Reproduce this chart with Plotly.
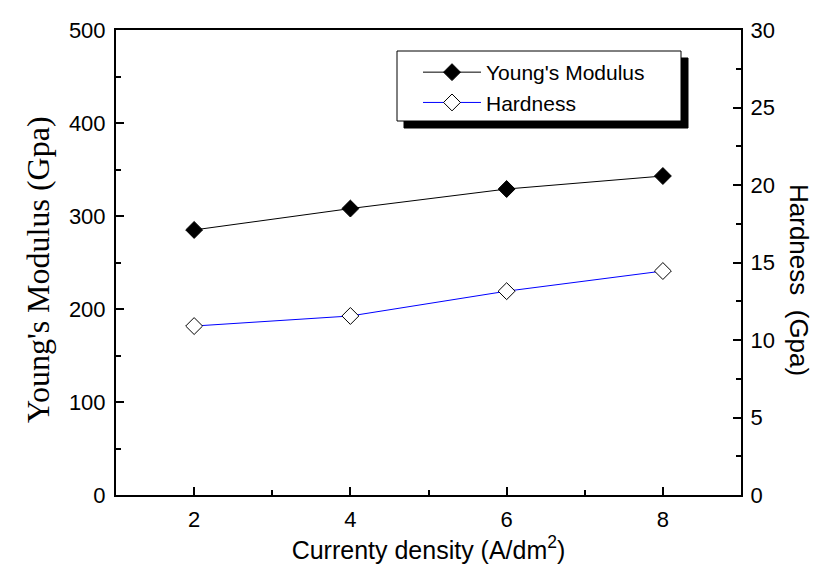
import plotly.graph_objects as go

current_density = [2, 4, 6, 8]
youngs_modulus = [285, 308, 329, 343]
hardness = [10.9, 11.55, 13.15, 14.45]

W, H = 818, 568
L, R, T, B = 108, 733, 22, 487

def px(x):
    return (x - L) / (R - L)

def py(y):
    return (B - y) / (B - T)

fig = go.Figure()
fig.add_trace(go.Scatter(
    x=current_density, y=youngs_modulus, name="Young's Modulus",
    mode="lines+markers",
    line=dict(color="black", width=1),
    marker=dict(symbol="diamond", size=13, color="black", line=dict(color="black", width=1)),
    yaxis="y"))
fig.add_trace(go.Scatter(
    x=current_density, y=hardness, name="Hardness",
    mode="lines+markers",
    line=dict(color="#0000FF", width=1),
    marker=dict(symbol="diamond", size=13, color="white", line=dict(color="black", width=1)),
    yaxis="y2"))

tickfont = dict(family="Liberation Sans, Arial", size=22, color="black")
axis_common = dict(showgrid=False, zeroline=False, showline=True, linecolor="black",
                   linewidth=2, ticks="inside", ticklen=8, tickwidth=1.5, tickcolor="black",
                   tickfont=tickfont, automargin=False)

fig.update_layout(
    width=W, height=H,
    margin=dict(l=L, r=W - R, t=T, b=H - B, pad=0, autoexpand=False),
    paper_bgcolor="white", plot_bgcolor="white",
    showlegend=True,
    xaxis=dict(range=[1, 9], tickvals=[2, 4, 6, 8], mirror=True, ticklabelstandoff=4,
               minor=dict(tickvals=[1, 3, 5, 7, 9], ticks="inside", ticklen=5, tickcolor="black", tickwidth=1.5),
               title=dict(text="Currenty density (A/dm<sup>2</sup>)",
                          font=dict(family="Liberation Sans, Arial", size=25, color="black"), standoff=8),
               **axis_common),
    yaxis=dict(range=[0, 500], tickvals=[0, 100, 200, 300, 400, 500], ticklabelstandoff=4,
               minor=dict(dtick=50, ticks="inside", ticklen=5, tickcolor="black", tickwidth=1.5),
               **axis_common),
    yaxis2=dict(range=[0, 30], tickvals=[0, 5, 10, 15, 20, 25, 30], overlaying="y", side="right",
                ticklabelstandoff=3,
                minor=dict(dtick=2.5, ticks="inside", ticklen=5, tickcolor="black", tickwidth=1.5),
                **axis_common),
    legend=dict(x=px(410), y=py(44), xanchor="left", yanchor="top",
                bgcolor="rgba(0,0,0,0)", borderwidth=0,
                font=dict(family="Liberation Sans, Arial", size=21, color="black"),
                itemwidth=58, tracegroupgap=0),
    shapes=[
        dict(type="rect", xref="paper", yref="paper", x0=px(396), x1=px(680), y0=py(120), y1=py(50),
             fillcolor="black", line=dict(color="black", width=1), layer="above"),
        dict(type="rect", xref="paper", yref="paper", x0=px(389), x1=px(673), y0=py(113), y1=py(43),
             fillcolor="white", line=dict(color="black", width=1), layer="above"),
    ],
    annotations=[
        dict(text="Young's Modulus (Gpa)", xref="paper", yref="paper", x=px(30), y=py(262),
             xanchor="center", yanchor="middle", showarrow=False, textangle=-90,
             font=dict(family="Liberation Serif, Times New Roman", size=32, color="black")),
        dict(text="Hardness  (Gpa)", xref="paper", yref="paper", x=px(791), y=py(272),
             xanchor="center", yanchor="middle", showarrow=False, textangle=90,
             font=dict(family="Liberation Sans, Arial", size=26, color="black")),
    ],
)

fig.write_html("out.html")
